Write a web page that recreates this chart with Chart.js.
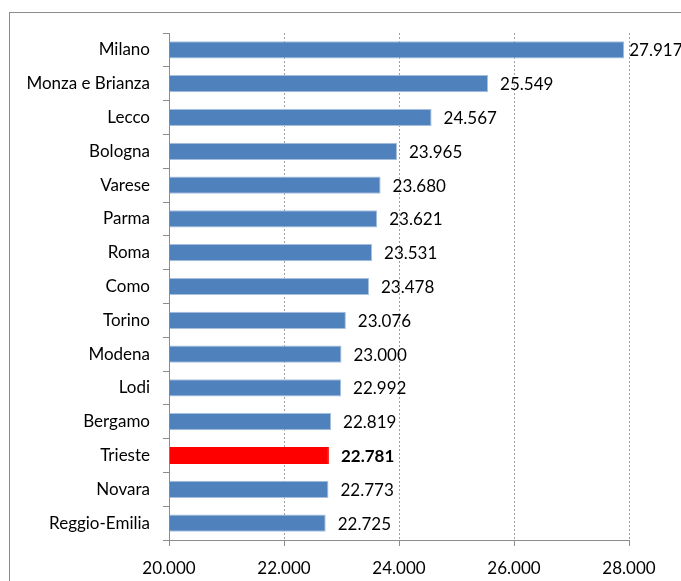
<!DOCTYPE html>
<html>
<head>
<meta charset="utf-8">
<script src="https://cdn.jsdelivr.net/npm/chart.js@4"></script>
<style>
  html, body { margin: 0; padding: 0; background: #fff; overflow: hidden; }
  #frame {
    position: absolute; left: 9px; top: 12px; width: 700px; height: 600px;
    border-left: 1px solid #8c8c8c; border-top: 1px solid #8c8c8c;
  }
  #wrap { position: absolute; left: 0; top: 0; width: 681px; height: 581px; }
</style>
</head>
<body>
<div id="frame"></div>
<div id="wrap"><canvas id="myChart" width="681" height="581"></canvas></div>
<script>
// reddito medio per provincia (dal grafico)
const province = ['Milano', 'Monza e Brianza', 'Lecco', 'Bologna', 'Varese', 'Parma', 'Roma', 'Como',
    'Torino', 'Modena', 'Lodi', 'Bergamo', 'Trieste', 'Novara', 'Reggio-Emilia'];
const reddito = [27917, 25549, 24567, 23965, 23680, 23621, 23531, 23478,
    23076, 23000, 22992, 22819, 22781, 22773, 22725];
const highlight = 'Trieste';
const xTicks = [20000, 22000, 24000, 26000, 28000];

const FONT = 'Lato, "Open Sans", sans-serif';
const FSIZE = 17;

function formatNum(v) {
    return v.toString().replace(/\B(?=(\d{3})+(?!\d))/g, '.');
}

const barColors = province.map(p => p === highlight ? '#FF0000' : '#4F81BD');
const barBorders = province.map(p => p === highlight ? '#FF0000' : '#A7BFDE');

// value labels at the end of each bar
const valueLabels = {
    id: 'valueLabels',
    afterDatasetsDraw: (chart) => {
        const ctx = chart.ctx;
        const meta = chart.getDatasetMeta(0);
        ctx.save();
        ctx.textBaseline = 'middle';
        ctx.textAlign = 'left';
        ctx.fillStyle = '#000';
        meta.data.forEach((bar, i) => {
            const bold = province[i] === highlight;
            ctx.font = (bold ? 'bold ' : '') + FSIZE + 'px ' + FONT;
            const txt = formatNum(reddito[i]);
            const w = ctx.measureText(txt).width;
            let x = bar.x + 12;
            if (x + w > chart.width + 2) x = bar.x + 5;
            ctx.fillText(txt, x, bar.y + 1);
        });
        ctx.restore();
    }
};

const configuration = {
    type: 'bar',
    data: {
        labels: province,
        datasets: [{
            data: reddito,
            backgroundColor: barColors,
            borderColor: barBorders,
            borderWidth: 1,
            barPercentage: 0.51,
            categoryPercentage: 1.0,
            base: 20000
        }]
    },
    options: {
        indexAxis: 'y',
        responsive: false,
        animation: false,
        layout: { padding: { top: 33, right: 52, left: 0, bottom: 0 } },
        plugins: {
            legend: { display: false },
            tooltip: { enabled: false }
        },
        scales: {
            x: {
                min: 20000,
                max: 28000,
                afterBuildTicks: (scale) => {
                    scale.ticks = xTicks.map(v => ({ value: v }));
                },
                afterFit: (scale) => { scale.height = 41; },
                ticks: {
                    color: '#000',
                    font: { family: FONT, size: FSIZE },
                    padding: 12,
                    callback: (v) => formatNum(v)
                },
                grid: {
                    color: '#a0a0a0',
                    tickColor: '#8c8c8c',
                    tickBorderDash: [],
                    tickLength: 6,
                    lineWidth: 1
                },
                border: { display: true, color: '#8c8c8c', dash: [2, 2] }
            },
            y: {
                afterFit: (scale) => { scale.width = 169; },
                ticks: {
                    color: '#000',
                    font: { family: FONT, size: FSIZE },
                    padding: 13
                },
                grid: {
                    drawOnChartArea: false,
                    offset: true,
                    tickColor: '#8c8c8c',
                    tickLength: 6
                },
                border: { display: true, color: '#8c8c8c' }
            }
        }
    },
    plugins: [valueLabels]
};

new Chart(document.getElementById('myChart'), configuration);
</script>
</body>
</html>
